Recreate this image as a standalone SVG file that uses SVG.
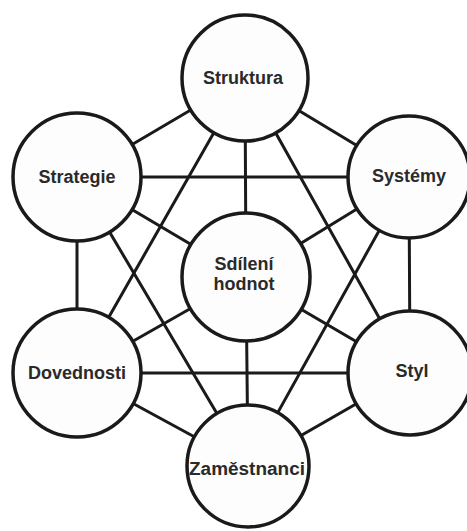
<svg xmlns="http://www.w3.org/2000/svg" width="467" height="531" viewBox="0 0 467 531">
  <style>
    .link { stroke: #1a1a1a; stroke-width: 3; fill: none; stroke-linecap: round; }
    .node circle { fill: #fdfdfd; stroke: #1a1a1a; stroke-width: 3.5; }
    .node text { font-family: "Liberation Sans", Arial, sans-serif; font-size: 18px; font-weight: bold; fill: #2a2a2a; text-anchor: middle; }
  </style>
  <rect width="467" height="531" fill="#ffffff"/>

  <!-- every element linked with every other one; the links between opposite
       outer elements run through the central circle and coincide with its spokes -->
  <g id="connectors">
    <!-- Struktura -->
    <line class="link" x1="245" y1="78" x2="77" y2="177"/>
    <line class="link" x1="245" y1="78" x2="409" y2="177"/>
    <line class="link" x1="245" y1="78" x2="246" y2="277"/>
    <line class="link" x1="245" y1="78" x2="77" y2="373"/>
    <line class="link" x1="245" y1="78" x2="410" y2="373"/>
    <!-- Strategie -->
    <line class="link" x1="77" y1="177" x2="409" y2="177"/>
    <line class="link" x1="77" y1="177" x2="246" y2="277"/>
    <line class="link" x1="77" y1="177" x2="77" y2="373"/>
    <line class="link" x1="77" y1="177" x2="248" y2="466"/>
    <!-- Systémy -->
    <line class="link" x1="409" y1="177" x2="246" y2="277"/>
    <line class="link" x1="409" y1="177" x2="410" y2="373"/>
    <line class="link" x1="409" y1="177" x2="248" y2="466"/>
    <!-- Sdílení hodnot -->
    <line class="link" x1="246" y1="277" x2="77" y2="373"/>
    <line class="link" x1="246" y1="277" x2="410" y2="373"/>
    <line class="link" x1="246" y1="277" x2="248" y2="466"/>
    <!-- Dovednosti, Styl -->
    <line class="link" x1="77" y1="373" x2="410" y2="373"/>
    <line class="link" x1="77" y1="373" x2="248" y2="466"/>
    <line class="link" x1="410" y1="373" x2="248" y2="466"/>
  </g>

  <g id="struktura" class="node">
    <circle cx="245" cy="78" r="63"/>
    <text x="243" y="84">Struktura</text>
  </g>
  <g id="strategie" class="node">
    <circle cx="77" cy="177" r="64"/>
    <text x="77" y="183">Strategie</text>
  </g>
  <g id="systemy" class="node">
    <circle cx="409" cy="177" r="61"/>
    <text x="409" y="182">Systémy</text>
  </g>
  <g id="sdilene-hodnoty" class="node">
    <circle cx="246" cy="277" r="64"/>
    <text x="244" y="270">Sdílení</text>
    <text x="244" y="290">hodnot</text>
  </g>
  <g id="dovednosti" class="node">
    <circle cx="77" cy="373" r="64"/>
    <text x="77" y="379">Dovednosti</text>
  </g>
  <g id="styl" class="node">
    <circle cx="410" cy="373" r="62"/>
    <text x="412" y="377">Styl</text>
  </g>
  <g id="zamestnanci" class="node">
    <circle cx="248" cy="466" r="61"/>
    <text x="247" y="475" textLength="116" lengthAdjust="spacingAndGlyphs">Zaměstnanci</text>
  </g>
</svg>
